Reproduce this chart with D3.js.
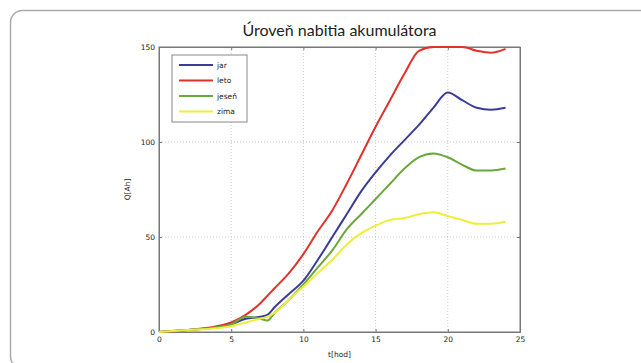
<!doctype html>
<html>
<head>
  <meta charset="UTF-8">
  <script src="https://d3js.org/d3.v7.min.js"></script>
  <style>
    body { margin: 0; background: #fff; }
    .tick text { font-family: "DejaVu Sans", sans-serif; font-size: 7.5px; fill: #222; }
    .grid line { stroke: #ccc; stroke-dasharray: 1,2; }
  </style>
</head>
<body>
<svg width="641" height="363"></svg>
<script>
// data
const hours = [0, 2, 4, 5, 6, 7, 7.5, 8, 9, 10, 11, 12, 13, 14, 15, 16, 17, 18, 19, 20, 21, 22, 23, 24];
const jar   = [0, 1, 2.5, 4, 7, 8, 9, 13, 20, 27, 38, 50, 62, 74, 84, 93, 101, 109, 118, 126, 122, 118, 117, 118];
const leto  = [0, 1, 3, 5, 9, 15, 19, 23, 31, 41, 53, 64, 78, 93, 108, 122, 136, 148, 150, 150, 150, 148, 147, 149];
const jesen = [0, 1, 2.5, 4, 8, 7, 6, 10, 17, 25, 34, 43, 54, 62, 70, 78, 86, 92, 94, 92, 88, 85, 85, 86];
const zima  = [0, 1, 2, 3, 5, 7, 8, 10, 17, 24, 31, 38, 46, 52, 56, 59, 60, 62, 63, 61, 59, 57, 57, 58];
const seriesNames = ["jar", "leto", "jeseň", "zima"];
const seriesColors = ["#3a3c96", "#e0322c", "#6aa83c", "#eeee3a"];
const xTicks = [0, 5, 10, 15, 20, 25];
const yTicks = [0, 50, 100, 150];

const svg = d3.select("svg");

// outer frame
svg.append("rect")
  .attr("x", 10.5).attr("y", 10.5)
  .attr("width", 700).attr("height", 358)
  .attr("rx", 12)
  .attr("fill", "none").attr("stroke", "#aaa").attr("stroke-width", 1.5);

const margin = {left: 159, top: 47, right: 121, bottom: 31};
const width = 641 - margin.left - margin.right;
const height = 363 - margin.top - margin.bottom;

const x = d3.scaleLinear().domain([0, 25]).range([0, width]);
const y = d3.scaleLinear().domain([0, 150]).range([height, 0]);

const g = svg.append("g").attr("transform", "translate(" + margin.left + "," + margin.top + ")");

// grid
g.append("g").attr("class", "grid")
  .selectAll("line.v").data(xTicks.slice(1, -1)).enter().append("line")
  .attr("x1", d => x(d)).attr("x2", d => x(d)).attr("y1", 0).attr("y2", height);
g.append("g").attr("class", "grid")
  .selectAll("line.h").data(yTicks.slice(1, -1)).enter().append("line")
  .attr("x1", 0).attr("x2", width).attr("y1", d => y(d)).attr("y2", d => y(d));

// box
g.append("rect").attr("width", width).attr("height", height)
  .attr("fill", "none").attr("stroke", "#777").attr("stroke-width", 1);

g.append("g").attr("transform", "translate(0," + height + ")")
  .call(d3.axisBottom(x).tickValues(xTicks).tickSize(-3).tickPadding(5));
g.append("g")
  .call(d3.axisLeft(y).tickValues(yTicks).tickSize(-3).tickPadding(4));
g.append("g").call(d3.axisTop(x).tickValues(xTicks).tickSize(-3).tickFormat(""));
g.append("g").attr("transform", "translate(" + width + ",0)")
  .call(d3.axisRight(y).tickValues(yTicks).tickSize(-3).tickFormat(""));
g.selectAll(".domain").attr("stroke", "#777");
g.selectAll(".tick line").attr("stroke", "#777");

// lines
const allSeries = [jar, leto, jesen, zima];
const line = d3.line().x((d, i) => x(hours[i])).y(d => y(d)).curve(d3.curveMonotoneX);
allSeries.forEach((s, k) => {
  g.append("path").datum(s)
    .attr("fill", "none")
    .attr("stroke", seriesColors[k])
    .attr("stroke-width", 2)
    .attr("stroke-linejoin", "round")
    .attr("d", line);
});

// legend
const leg = g.append("g").attr("transform", "translate(13,8)");
leg.append("rect").attr("width", 75).attr("height", 67)
  .attr("fill", "#fff").attr("stroke", "#888");
seriesNames.forEach((n, k) => {
  const yy = 10 + k * 15.5;
  leg.append("line").attr("x1", 7).attr("x2", 41).attr("y1", yy).attr("y2", yy)
    .attr("stroke", seriesColors[k]).attr("stroke-width", 2);
  leg.append("text").attr("x", 45).attr("y", yy + 2.5)
    .attr("font-family", "DejaVu Sans, sans-serif").attr("font-size", 7.5).attr("fill", "#222")
    .text(n);
});

// title and axis labels
svg.append("text").attr("x", margin.left + width / 2).attr("y", 36)
  .attr("text-anchor", "middle")
  .attr("font-family", "Lato, sans-serif").attr("font-size", 16).attr("fill", "#222")
  .text("Úroveň nabitia akumulátora");
svg.append("text").attr("x", margin.left + width / 2).attr("y", 357)
  .attr("text-anchor", "middle")
  .attr("font-family", "DejaVu Sans, sans-serif").attr("font-size", 7.5).attr("fill", "#222")
  .text("t[hod]");
svg.append("text")
  .attr("transform", "translate(130," + (margin.top + height / 2) + ") rotate(-90)")
  .attr("text-anchor", "middle")
  .attr("font-family", "DejaVu Sans, sans-serif").attr("font-size", 7.5).attr("fill", "#222")
  .text("Q[Ah]");
</script>
</body>
</html>
